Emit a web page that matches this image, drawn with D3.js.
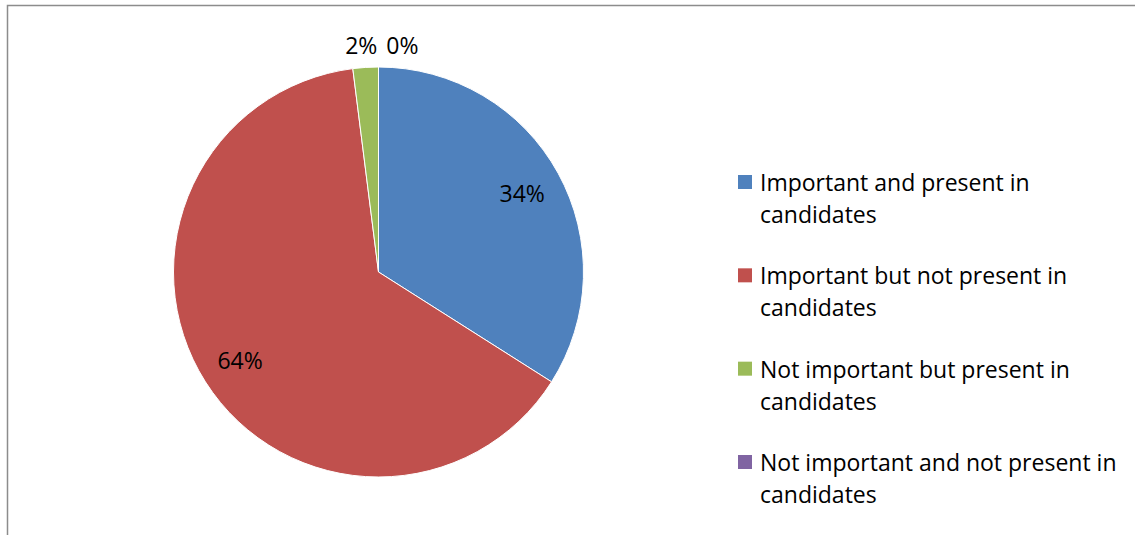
<!DOCTYPE html>
<html>
<head>
<meta charset="utf-8">
<script src="https://cdn.jsdelivr.net/npm/d3@7"></script>
<style>
  html, body { margin: 0; padding: 0; background: #fff; }
  svg { display: block; }
  text { font-family: "Open Sans", "Lato", sans-serif; fill: #000; }
</style>
</head>
<body>
<svg id="chart" width="1135" height="535"></svg>
<script>
// Survey responses: share of respondents per category (percent)
const categories = [
  "Important and present in candidates",
  "Important but not present in candidates",
  "Not important but present in candidates",
  "Not important and not present in candidates"
];
const values = [34, 64, 2, 0];
const colors = ["#4F81BD", "#C0504D", "#9BBB59", "#8064A2"];

const W = 1135, H = 535;
const svg = d3.select("#chart");

// chart area frame (extends past the right and bottom edges)
svg.append("rect")
  .attr("x", 7.5).attr("y", 5.5)
  .attr("width", W + 10).attr("height", H + 10)
  .attr("fill", "none")
  .attr("stroke", "#8c8c8c")
  .attr("stroke-width", 1.5);

const cx = 378.5, cy = 272, r = 205;
const g = svg.append("g").attr("transform", `translate(${cx},${cy})`);

const pie = d3.pie().sort(null).value(d => d.value);
const arcs = pie(categories.map((c, i) => ({ name: c, value: values[i], color: colors[i] })));
const arc = d3.arc().innerRadius(0).outerRadius(r);

g.selectAll("path.slice")
  .data(arcs)
  .join("path")
  .attr("class", "slice")
  .attr("d", arc)
  .attr("fill", d => d.data.color)
  .attr("stroke", "#fff")
  .attr("stroke-width", 1);

// value labels: inside for large slices, just outside the rim for small ones
const inner = d3.arc().innerRadius(r * 0.8).outerRadius(r * 0.8);
const outer = d3.arc().innerRadius(r + 22).outerRadius(r + 22);
const fontSize = 23;
const labelGap = 9;
let lastRight = -Infinity;
arcs.forEach(d => {
  const small = d.data.value < 5;
  const [x, y] = small ? outer.centroid(d) : inner.centroid(d);
  const t = g.append("text")
    .attr("font-size", fontSize)
    .attr("dominant-baseline", "central")
    .attr("text-anchor", "middle")
    .attr("x", small ? x - 3 : x).attr("y", y)
    .text(d.data.value + "%");
  if (small) {
    const bb = t.node().getBBox();
    if (bb.x < lastRight + labelGap) {
      t.attr("x", +t.attr("x") + (lastRight + labelGap - bb.x));
    }
    const nb = t.node().getBBox();
    lastRight = nb.x + nb.width;
  }
});

// legend
const legend = svg.append("g").attr("transform", "translate(738,0)");
const itemY = d3.scalePoint().domain(categories).range([182, 462]);
const wrap = name => {
  const idx = name.lastIndexOf(" candidates");
  return [name.slice(0, idx), name.slice(idx + 1)];
};
categories.forEach((c, i) => {
  const y0 = itemY(c);
  legend.append("rect")
    .attr("x", 0).attr("y", y0 - 7)
    .attr("width", 14).attr("height", 14)
    .attr("fill", colors[i]);
  const lines = wrap(c);
  const t = legend.append("text")
    .attr("font-size", fontSize)
    .attr("x", 22).attr("y", y0)
    .attr("dominant-baseline", "central");
  lines.forEach((ln, j) => {
    t.append("tspan").attr("x", 22).attr("dy", j === 0 ? 0 : 32).text(ln);
  });
});
</script>
</body>
</html>
